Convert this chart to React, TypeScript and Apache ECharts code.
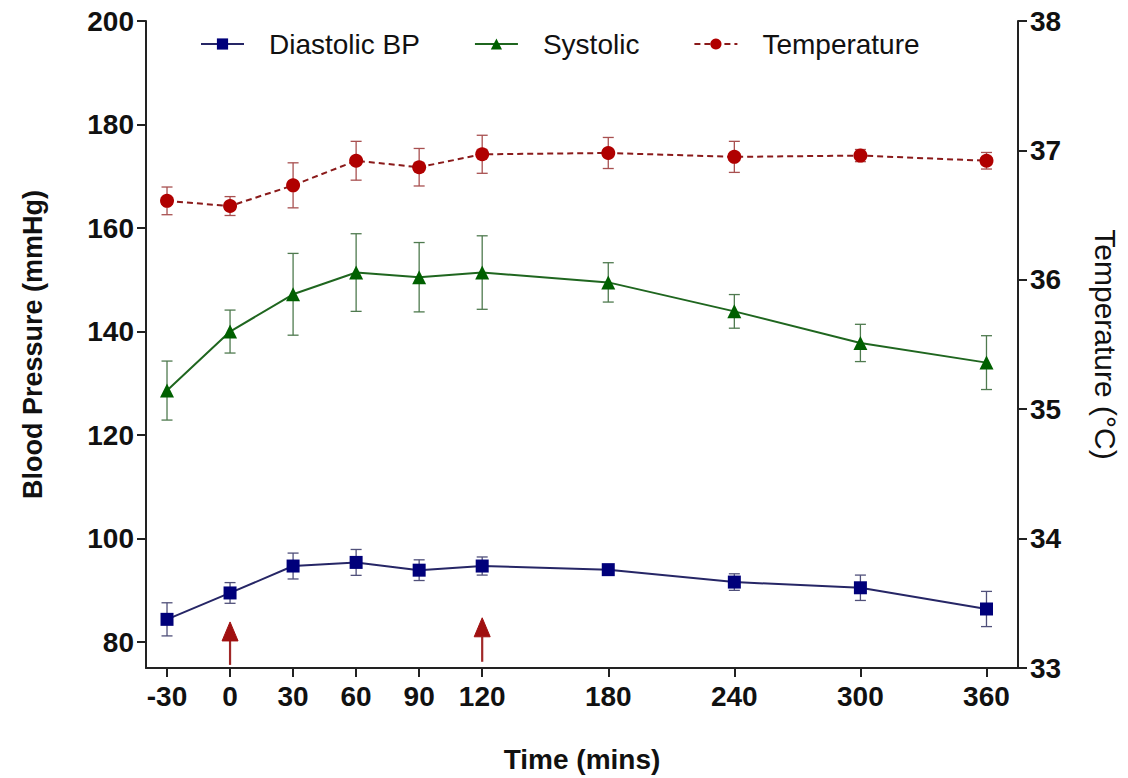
import React, { useEffect, useRef } from "react";
import * as echarts from "echarts";

const times = [-30, 0, 30, 60, 90, 120, 180, 240, 300, 360];
const diastolic = [84.4, 89.5, 94.7, 95.4, 93.9, 94.7, 94.0, 91.6, 90.5, 86.4];
const diastolicErr = [3.2, 2.0, 2.5, 2.5, 2.0, 1.75, 0.8, 1.6, 2.45, 3.4];
const systolic = [128.6, 140.0, 147.2, 151.4, 150.5, 151.4, 149.5, 143.9, 137.8, 134.0];
const systolicErr = [5.7, 4.15, 7.9, 7.5, 6.7, 7.1, 3.8, 3.25, 3.6, 5.2];
const temperature = [36.61, 36.57, 36.73, 36.92, 36.87, 36.97, 36.98, 36.95, 36.96, 36.92];
const temperatureErr = [0.107, 0.073, 0.174, 0.15, 0.145, 0.147, 0.12, 0.12, 0.047, 0.064];
const arrowTimes = [0, 120];
const arrowBase = [75.6, 76.2];
const arrowTip = [83.9, 84.7];
const bpTicks = [80, 100, 120, 140, 160, 180, 200];
const timeTicks = [-30, 0, 30, 60, 90, 120, 180, 240, 300, 360];

const FONT = "Liberation Sans, Arial, sans-serif";

function errData(vals: number[], errs: number[]) {
  return times.map((t, i) => [t, vals[i] - errs[i], vals[i] + errs[i]]);
}

function errSeries(name: string, vals: number[], errs: number[], color: string, yAxisIndex: number) {
  return {
    type: "custom",
    name: name + " err",
    yAxisIndex,
    z: 1,
    silent: true,
    encode: { x: 0, y: [1, 2] },
    data: errData(vals, errs),
    renderItem: (params: any, api: any) => {
      const x = api.value(0);
      const lo = api.coord([x, api.value(1)]);
      const hi = api.coord([x, api.value(2)]);
      const w = 5.5;
      const style = { stroke: color, lineWidth: 1.3 };
      return {
        type: "group",
        children: [
          { type: "line", shape: { x1: lo[0], y1: lo[1], x2: hi[0], y2: hi[1] }, style },
          { type: "line", shape: { x1: lo[0] - w, y1: lo[1], x2: lo[0] + w, y2: lo[1] }, style },
          { type: "line", shape: { x1: hi[0] - w, y1: hi[1], x2: hi[0] + w, y2: hi[1] }, style },
        ],
      };
    },
  };
}

export default function App() {
  const ref = useRef<HTMLDivElement>(null);
  useEffect(() => {
    if (!ref.current) return;
    const chart = echarts.init(ref.current, null, { renderer: "svg" });
    const axisLabelStyle = { fontFamily: FONT, fontSize: 28, fontWeight: "bold", color: "#111" };
    chart.setOption({
      animation: false,
      backgroundColor: "#fff",
      grid: { left: 146, right: 110, top: 21, bottom: 110, containLabel: false },
      legend: {
        left: 195,
        top: 25,
        itemWidth: 43,
        itemHeight: 14,
        itemGap: 54,
        textStyle: { fontFamily: FONT, fontSize: 28, color: "#111", padding: [0, 0, 0, 20] },
        data: ["Diastolic BP", "Systolic", "Temperature"],
      },
      xAxis: {
        type: "value",
        min: -40,
        max: 375,
        name: "Time (mins)",
        nameLocation: "middle",
        nameGap: 77,
        nameTextStyle: { ...axisLabelStyle, fontSize: 28, verticalAlign: "top" },
        axisLine: { show: true, onZero: false, lineStyle: { color: "#222", width: 2 } },
        axisTick: { show: true, length: 9, lineStyle: { color: "#222", width: 2 }, customValues: timeTicks },
        axisLabel: { ...axisLabelStyle, margin: 14, customValues: timeTicks },
        splitLine: { show: false },
      },
      yAxis: [
        {
          type: "value",
          min: 75,
          max: 200,
          name: "Blood Pressure (mmHg)",
          nameLocation: "middle",
          nameRotate: 90,
          nameGap: 100,
          nameTextStyle: { ...axisLabelStyle, fontSize: 27 },
          axisLine: { show: true, onZero: false, lineStyle: { color: "#222", width: 2 } },
          axisTick: { show: true, length: 9, lineStyle: { color: "#222", width: 2 }, customValues: bpTicks },
          axisLabel: { ...axisLabelStyle, margin: 12, customValues: bpTicks },
          splitLine: { show: false },
        },
        {
          type: "value",
          min: 33,
          max: 38,
          interval: 1,
          position: "right",
          name: "Temperature (°C)",
          nameLocation: "middle",
          nameRotate: -90,
          nameGap: 72,
          nameTextStyle: { fontFamily: FONT, fontSize: 30, color: "#111" },
          axisLine: { show: true, onZero: false, lineStyle: { color: "#222", width: 2 } },
          axisTick: { show: true, length: 9, lineStyle: { color: "#222", width: 2 } },
          axisLabel: { ...axisLabelStyle, margin: 12 },
          splitLine: { show: false },
        },
      ],
      series: [
        errSeries("Diastolic BP", diastolic, diastolicErr, "#50507a", 0),
        errSeries("Systolic", systolic, systolicErr, "#4f7a4f", 0),
        errSeries("Temperature", temperature, temperatureErr, "#a85050", 1),
        {
          type: "custom",
          name: "arrows",
          yAxisIndex: 0,
          z: 1,
          silent: true,
          encode: { x: 0, y: [1, 2] },
          data: arrowTimes.map((t, i) => [t, arrowBase[i], arrowTip[i]]),
          renderItem: (params: any, api: any) => {
            const x = api.value(0);
            const b = api.coord([x, api.value(1)]);
            const tip = api.coord([x, api.value(2)]);
            const headH = 19;
            const headW = 8;
            const color = "#a01010";
            return {
              type: "group",
              children: [
                { type: "line", shape: { x1: b[0], y1: b[1], x2: tip[0], y2: tip[1] + headH }, style: { stroke: "#a02828", lineWidth: 2.2 } },
                {
                  type: "polygon",
                  shape: { points: [[tip[0], tip[1]], [tip[0] - headW, tip[1] + headH], [tip[0] + headW, tip[1] + headH]] },
                  style: { fill: color, stroke: color, lineWidth: 1 },
                },
              ],
            };
          },
        },
        {
          type: "line",
          name: "Diastolic BP",
          yAxisIndex: 0,
          z: 3,
          data: times.map((t, i) => [t, diastolic[i]]),
          symbol: "rect",
          symbolSize: 13,
          itemStyle: { color: "#00007a" },
          lineStyle: { color: "#262666", width: 2 },
        },
        {
          type: "line",
          name: "Systolic",
          yAxisIndex: 0,
          z: 3,
          data: times.map((t, i) => [t, systolic[i]]),
          symbol: "triangle",
          symbolSize: 14,
          itemStyle: { color: "#006000" },
          lineStyle: { color: "#1f661f", width: 2 },
        },
        {
          type: "line",
          name: "Temperature",
          yAxisIndex: 1,
          z: 3,
          data: times.map((t, i) => [t, temperature[i]]),
          symbol: "circle",
          symbolSize: 14,
          itemStyle: { color: "#b00000" },
          lineStyle: { color: "#8a1a1a", width: 2, type: [6, 4] },
        },
      ],
    });
    return () => chart.dispose();
  }, []);
  return <div ref={ref} style={{ position: "fixed", left: 0, top: 0, width: 1128, height: 778, background: "#fff" }} />;
}
